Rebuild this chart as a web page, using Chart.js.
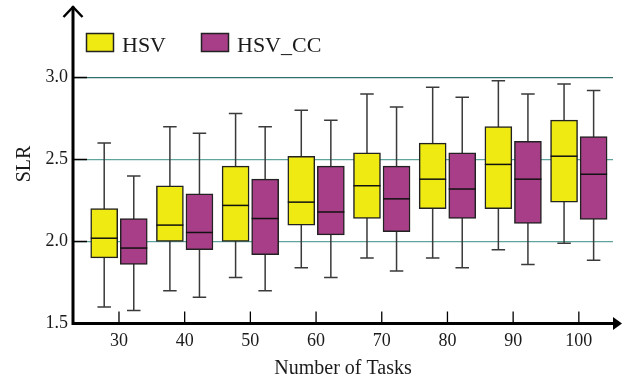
<!DOCTYPE html>
<html>
<head>
<meta charset="utf-8">
<script src="https://cdn.jsdelivr.net/npm/chart.js@4"></script>
<style>
  body { margin: 0; background: #fff; }
</style>
</head>
<body>
<canvas id="myChart" width="633" height="385"></canvas>
<script>
const categories = [30, 40, 50, 60, 70, 80, 90, 100];
const yTicks = [1.5, 2.0, 2.5, 3.0];

// HSV
const hsvMin = [1.60, 1.70, 1.78, 1.84, 1.90, 1.90, 1.95, 1.99];
const hsvQ1 = [1.90, 2.00, 2.00, 2.10, 2.14, 2.20, 2.20, 2.24];
const hsvMedian = [2.02, 2.10, 2.22, 2.24, 2.34, 2.38, 2.47, 2.52];
const hsvQ3 = [2.20, 2.34, 2.46, 2.52, 2.54, 2.60, 2.70, 2.74];
const hsvMax = [2.60, 2.70, 2.78, 2.80, 2.90, 2.94, 2.98, 2.96];

// HSV_CC
const ccMin = [1.58, 1.66, 1.70, 1.78, 1.82, 1.84, 1.86, 1.885];
const ccQ1 = [1.86, 1.95, 1.92, 2.04, 2.06, 2.14, 2.11, 2.135];
const ccMedian = [1.96, 2.055, 2.14, 2.18, 2.26, 2.32, 2.38, 2.41];
const ccQ3 = [2.14, 2.29, 2.38, 2.46, 2.46, 2.54, 2.61, 2.64];
const ccMax = [2.40, 2.66, 2.70, 2.74, 2.82, 2.88, 2.90, 2.92];

const FONT = 'Liberation Serif';
const TEXT = '#1a1a1a';
const SHIFT = 2.25; // half distance between the two boxes, in x units

function boxData(q1, q3, dx) {
  return categories.map((c, i) => ({ x: c + dx, y: [q1[i], q3[i]] }));
}

// no extra room for edge labels, the plot area is set by hand
function noLabelPadding(scale) {
  scale.paddingTop = 0;
  scale.paddingBottom = 0;
  scale.paddingLeft = 0;
  scale.paddingRight = 0;
}

// whiskers, medians, axes with arrows, inward ticks and the legend
const boxPlot = {
  id: 'boxPlot',
  beforeDatasetsDraw(chart) {
    const ctx = chart.ctx;
    const y = chart.scales.y;
    ctx.save();
    chart.data.datasets.forEach((ds, d) => {
      chart.getDatasetMeta(d).data.forEach((bar, i) => {
        const top = y.getPixelForValue(ds.stats.max[i]);
        const bottom = y.getPixelForValue(ds.stats.min[i]);
        const half = bar.width / 4;
        ctx.strokeStyle = '#3a3a3a';
        ctx.lineWidth = 1.5;
        ctx.beginPath();
        ctx.moveTo(bar.x, top);
        ctx.lineTo(bar.x, bottom);
        ctx.moveTo(bar.x - half, top);
        ctx.lineTo(bar.x + half, top);
        ctx.moveTo(bar.x - half, bottom);
        ctx.lineTo(bar.x + half, bottom);
        ctx.stroke();
      });
    });
    ctx.restore();
  },
  afterDatasetsDraw(chart) {
    const ctx = chart.ctx;
    const y = chart.scales.y;
    ctx.save();
    ctx.strokeStyle = '#111';
    ctx.lineWidth = 1.5;
    chart.data.datasets.forEach((ds, d) => {
      chart.getDatasetMeta(d).data.forEach((bar, i) => {
        const m = y.getPixelForValue(ds.stats.median[i]);
        ctx.beginPath();
        ctx.moveTo(bar.x - bar.width / 2, m);
        ctx.lineTo(bar.x + bar.width / 2, m);
        ctx.stroke();
      });
    });
    ctx.restore();
  },
  afterDraw(chart) {
    const ctx = chart.ctx;
    const { left, right, top, bottom } = chart.chartArea;
    const x = chart.scales.x;
    const y = chart.scales.y;
    ctx.save();
    ctx.strokeStyle = '#000';
    ctx.fillStyle = '#000';

    // inward tick marks
    ctx.lineWidth = 1.3;
    ctx.beginPath();
    yTicks.slice(1).forEach(v => {
      const py = y.getPixelForValue(v);
      ctx.moveTo(left, py);
      ctx.lineTo(left + 14, py);
    });
    categories.forEach(c => {
      const px = x.getPixelForValue(c);
      ctx.moveTo(px, bottom);
      ctx.lineTo(px, bottom - 12);
    });
    ctx.stroke();

    // axes
    ctx.lineWidth = 3;
    ctx.beginPath();
    ctx.moveTo(left, bottom + 1.5);
    ctx.lineTo(left, top + 2);
    ctx.moveTo(left - 1.5, bottom);
    ctx.lineTo(right + 1, bottom);
    ctx.stroke();

    ctx.lineWidth = 2.5;
    ctx.beginPath();
    ctx.moveTo(left - 9.5, top + 12.5);
    ctx.lineTo(left, top + 2.5);
    ctx.lineTo(left + 9.5, top + 12.5);
    ctx.stroke();

    ctx.beginPath();
    ctx.moveTo(right, bottom - 6.5);
    ctx.lineTo(right + 9, bottom);
    ctx.lineTo(right, bottom + 6.5);
    ctx.closePath();
    ctx.fill();

    // legend
    const legendX = [86.5, 201.5];
    ctx.font = '22px "' + FONT + '"';
    ctx.textBaseline = 'alphabetic';
    chart.data.datasets.forEach((ds, d) => {
      const bx = legendX[d];
      ctx.fillStyle = ds.backgroundColor;
      ctx.fillRect(bx, 33.5, 27, 18);
      ctx.lineWidth = 1.5;
      ctx.strokeStyle = '#222';
      ctx.strokeRect(bx, 33.5, 27, 18);
      ctx.fillStyle = TEXT;
      ctx.fillText(ds.label, bx + 35.5, 51.5);
    });
    ctx.restore();
  },
};

const ctx = document.getElementById('myChart').getContext('2d');
// eslint-disable-next-line
const myChart = new Chart(ctx, {
  type: 'bar',
  data: {
    datasets: [
      {
        label: 'HSV',
        data: boxData(hsvQ1, hsvQ3, -SHIFT),
        stats: { min: hsvMin, median: hsvMedian, max: hsvMax },
        backgroundColor: '#eeea12',
        borderColor: '#222',
        borderWidth: 1.5,
        borderSkipped: false,
        barThickness: 27,
      },
      {
        label: 'HSV_CC',
        data: boxData(ccQ1, ccQ3, SHIFT),
        stats: { min: ccMin, median: ccMedian, max: ccMax },
        backgroundColor: '#a83e88',
        borderColor: '#222',
        borderWidth: 1.5,
        borderSkipped: false,
        barThickness: 27,
      },
    ],
  },
  options: {
    responsive: false,
    animation: false,
    devicePixelRatio: 1,
    grouped: false,
    layout: { padding: { top: 4.5, right: 20, left: 0, bottom: 0 } },
    plugins: {
      legend: { display: false },
      tooltip: { enabled: false },
    },
    scales: {
      x: {
        type: 'linear',
        offset: false,
        min: 23,
        max: 105.2,
        afterBuildTicks: scale => { scale.ticks = categories.map(v => ({ value: v })); },
        afterFit: scale => { scale.height = 61.5; noLabelPadding(scale); },
        grid: { display: false, drawTicks: false },
        border: { display: false },
        ticks: { color: TEXT, font: { family: FONT, size: 18 }, padding: 7, maxRotation: 0 },
        title: {
          display: true,
          text: 'Number of Tasks',
          color: TEXT,
          font: { family: FONT, size: 20 },
          padding: { bottom: 4 },
        },
      },
      y: {
        min: 1.5,
        max: 3.445,
        afterBuildTicks: scale => { scale.ticks = yTicks.map(v => ({ value: v })); },
        afterFit: scale => { scale.width = 73; noLabelPadding(scale); },
        grid: {
          drawTicks: false,
          lineWidth: 1.2,
          color: c => (c.tick.value === 3 ? '#2e6f6b' : c.tick.value === 1.5 ? 'rgba(0,0,0,0)' : '#5fa39d'),
        },
        border: { display: false },
        ticks: {
          color: TEXT,
          font: { family: FONT, size: 18 },
          padding: 5,
          callback: v => v.toFixed(1),
        },
        title: {
          display: true,
          text: 'SLR',
          color: TEXT,
          font: { family: FONT, size: 20 },
          padding: { top: 13 },
        },
      },
    },
  },
  plugins: [boxPlot],
});
</script>
</body>
</html>
